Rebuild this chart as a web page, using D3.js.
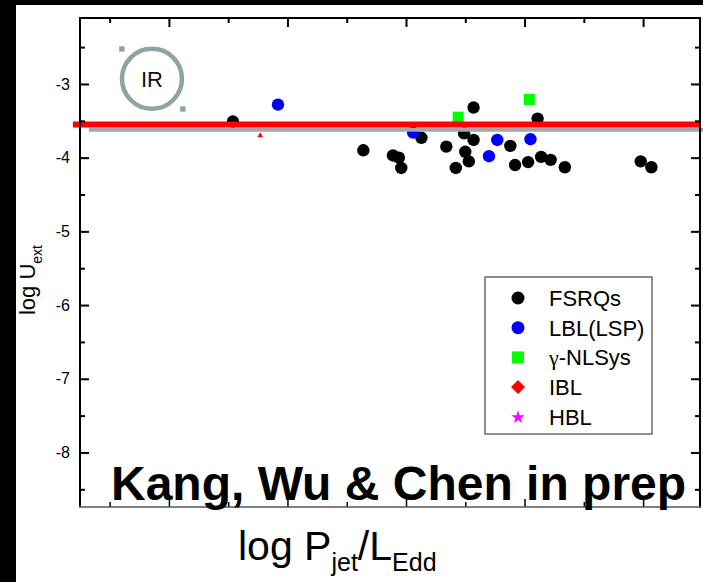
<!DOCTYPE html>
<html>
<head>
<meta charset="utf-8">
<script src="https://cdn.jsdelivr.net/npm/d3@7"></script>
<style>
  body { margin: 0; background: #fff; }
  svg { display: block; font-family: "Liberation Sans", Arial, sans-serif; }
</style>
</head>
<body>
<svg id="chart" width="703" height="582"></svg>
<script>
// ---- data: log Pjet/LEdd (x) vs log U_ext (y) ----
const fsrqX = [-2.46, -1.36, -1.11, -1.06, -1.04, -0.87, -0.66, -0.58, -0.51, -0.43, -0.50,
               -0.47, -0.43, -0.12, -0.08, 0.03, 0.11, 0.14, 0.22, 0.34, 0.98, 1.07];
const fsrqY = [-3.51, -3.90, -3.97, -4.00, -4.14, -3.73, -3.85, -4.14, -3.67, -3.76, -3.92,
               -4.05, -3.32, -3.84, -4.10, -4.06, -3.47, -3.99, -4.03, -4.13, -4.05, -4.13];
const lblX = [-2.08, -0.94, -0.30, -0.23, 0.05];
const lblY = [-3.28, -3.66, -3.98, -3.76, -3.75];
const nlsyX = [-0.56, 0.04];
const nlsyY = [-3.45, -3.21];
const iblX = [-2.23];
const iblY = [-3.70];

// reference levels (horizontal bands)
const redLevel = -3.55;
const grayLevel = -3.62;

// axis ticks
const yTicks = [-8, -7, -6, -5, -4, -3];
const yMinor = [-8.5, -7.5, -6.5, -5.5, -4.5, -3.5, -2.5];
const xTicks = [-3, -2, -1, 0, 1];
const xMinor = [-3.5, -2.5, -1.5, -0.5, 0.5];

const legendLabels = ["FSRQs", "LBL(LSP)", "-NLSys", "IBL", "HBL"];

// ---- layout ----
const W = 703, H = 582;
const plotL = 80, plotR = 700, plotT = 18, plotB = 507;

const svg = d3.select("#chart");

const x = d3.scaleLinear().domain([-3.75, 1.48]).range([plotL, plotR]);
const y = d3.scaleLinear().domain([-2.105, -8.74]).range([plotT, plotB]);

// dark frame strips along the top and left edges
svg.append("rect").attr("x", 0).attr("y", 0).attr("width", W).attr("height", 5).attr("fill", "#000");
svg.append("rect").attr("x", 0).attr("y", 0).attr("width", 16).attr("height", H).attr("fill", "#000");

// ---- points ----
const g = svg.append("g");

const fsrq = fsrqX.map((v, i) => [v, fsrqY[i]]);
const lbl = lblX.map((v, i) => [v, lblY[i]]);
const nlsy = nlsyX.map((v, i) => [v, nlsyY[i]]);
const ibl = iblX.map((v, i) => [v, iblY[i]]);

g.selectAll("circle.fsrq").data(fsrq).join("circle")
  .attr("class", "fsrq")
  .attr("cx", d => x(d[0])).attr("cy", d => y(d[1])).attr("r", 6.2).attr("fill", "#000");

g.selectAll("circle.lbl").data(lbl).join("circle")
  .attr("class", "lbl")
  .attr("cx", d => x(d[0])).attr("cy", d => y(d[1])).attr("r", 6.2).attr("fill", "#0000ff");

g.selectAll("rect.nlsy").data(nlsy).join("rect")
  .attr("class", "nlsy")
  .attr("x", d => x(d[0]) - 5.5).attr("y", d => y(d[1]) - 5.5)
  .attr("width", 11).attr("height", 11).attr("fill", "#00ff00");

g.selectAll("path.ibl").data(ibl).join("path")
  .attr("class", "ibl")
  .attr("transform", d => `translate(${x(d[0])},${y(d[1])})`)
  .attr("d", d3.symbol(d3.symbolTriangle, 14))
  .attr("fill", "#ff0000");

// ---- horizontal levels ----
svg.append("line")
  .attr("x1", x(-3.675)).attr("x2", W)
  .attr("y1", y(grayLevel)).attr("y2", y(grayLevel))
  .attr("stroke", "#a6a6a6").attr("stroke-width", 4);
svg.append("line")
  .attr("x1", x(-3.81)).attr("x2", x(1.475))
  .attr("y1", y(redLevel)).attr("y2", y(redLevel))
  .attr("stroke", "#ff0000").attr("stroke-width", 6);

// ---- axes (inward ticks) ----
function styleAxis(sel, width) {
  sel.select(".domain").remove();
  sel.selectAll(".tick line").attr("stroke", "#000").attr("stroke-width", width);
}

svg.append("g").attr("transform", `translate(${plotL},0)`)
  .call(d3.axisLeft(y).tickValues(yTicks).tickSize(-9).tickPadding(10).tickFormat(d => String(d)))
  .call(s => styleAxis(s, 2))
  .call(s => s.selectAll("text").attr("font-size", 16).attr("fill", "#000")
    .attr("font-family", "'Liberation Sans', Arial, sans-serif"));
svg.append("g").attr("transform", `translate(${plotL},0)`)
  .call(d3.axisLeft(y).tickValues(yMinor).tickSize(-5).tickFormat(""))
  .call(s => styleAxis(s, 2));

svg.append("g").attr("transform", `translate(${plotR},0)`)
  .call(d3.axisRight(y).tickValues(yTicks).tickSize(-9).tickFormat(""))
  .call(s => styleAxis(s, 2));
svg.append("g").attr("transform", `translate(${plotR},0)`)
  .call(d3.axisRight(y).tickValues(yMinor).tickSize(-5).tickFormat(""))
  .call(s => styleAxis(s, 2));

svg.append("g").attr("transform", `translate(0,${plotT})`)
  .call(d3.axisTop(x).tickValues(xTicks).tickSize(-9).tickFormat(""))
  .call(s => styleAxis(s, 2));
svg.append("g").attr("transform", `translate(0,${plotT})`)
  .call(d3.axisTop(x).tickValues(xMinor).tickSize(-5).tickFormat(""))
  .call(s => styleAxis(s, 2));

svg.append("g").attr("transform", `translate(0,${plotB})`)
  .call(d3.axisBottom(x).tickValues(xTicks).tickSize(-8).tickFormat(""))
  .call(s => styleAxis(s, 1.5));
svg.append("g").attr("transform", `translate(0,${plotB})`)
  .call(d3.axisBottom(x).tickValues(xMinor).tickSize(-5).tickFormat(""))
  .call(s => styleAxis(s, 1.5));

// frame
svg.append("line").attr("x1", plotL).attr("x2", plotL).attr("y1", plotT - 1).attr("y2", plotB)
  .attr("stroke", "#000").attr("stroke-width", 2);
svg.append("line").attr("x1", plotR).attr("x2", plotR).attr("y1", plotT - 1).attr("y2", plotB + 1)
  .attr("stroke", "#000").attr("stroke-width", 2);
svg.append("line").attr("x1", plotL - 1).attr("x2", plotR + 1).attr("y1", plotT).attr("y2", plotT)
  .attr("stroke", "#000").attr("stroke-width", 2);
svg.append("line").attr("x1", plotL - 1).attr("x2", plotR + 1).attr("y1", plotB).attr("y2", plotB)
  .attr("stroke", "#555").attr("stroke-width", 1.5);

// ---- IR annotation ----
const irColor = "#8ea3a3";
const irC = [-3.143, -2.93];
svg.append("circle")
  .attr("cx", x(irC[0])).attr("cy", y(irC[1])).attr("r", 30)
  .attr("fill", "none").attr("stroke", irColor).attr("stroke-width", 4.5);
svg.append("text")
  .attr("x", x(irC[0])).attr("y", y(irC[1]) + 8)
  .attr("text-anchor", "middle").attr("font-size", 22).attr("fill", "#111")
  .text("IR");
[[-3.397, -2.525], [-2.882, -3.339]].forEach(p => {
  svg.append("rect")
    .attr("x", x(p[0]) - 2.7).attr("y", y(p[1]) - 2.7)
    .attr("width", 5.4).attr("height", 5.4).attr("fill", irColor);
});

// ---- credit line ----
svg.append("text")
  .attr("x", 111).attr("y", 500)
  .attr("font-size", 48).attr("font-weight", "bold").attr("fill", "#000")
  .text("Kang, Wu & Chen in prep");

// ---- axis titles ----
const xt = svg.append("text").attr("x", 238).attr("y", 560).attr("font-size", 41).attr("fill", "#000");
xt.append("tspan").text("log P");
xt.append("tspan").attr("font-size", 25).attr("dy", 11).text("jet");
xt.append("tspan").attr("dy", -11).text("/L");
xt.append("tspan").attr("font-size", 25).attr("dy", 11).text("Edd");

const yt = svg.append("text")
  .attr("transform", "translate(35,280) rotate(-90)")
  .attr("text-anchor", "middle").attr("font-size", 22).attr("fill", "#000");
yt.append("tspan").text("log U");
yt.append("tspan").attr("font-size", 14).attr("dy", 7).text("ext");

// ---- legend ----
const lg = svg.append("g");
lg.append("rect")
  .attr("x", 485).attr("y", 277).attr("width", 167).attr("height", 157)
  .attr("fill", "#fff").attr("stroke", "#555").attr("stroke-width", 1.3);

const rowY = i => 298 + i * 29.7;
const mx = 518, tx = 549;
lg.append("circle").attr("cx", mx).attr("cy", rowY(0)).attr("r", 6.5).attr("fill", "#000");
lg.append("circle").attr("cx", mx).attr("cy", rowY(1)).attr("r", 6.5).attr("fill", "#0000ff");
lg.append("rect").attr("x", mx - 6).attr("y", rowY(2) - 6).attr("width", 12).attr("height", 12).attr("fill", "#00ff00");
lg.append("path")
  .attr("d", `M${mx},${rowY(3) - 7}L${mx + 7},${rowY(3)}L${mx},${rowY(3) + 7}L${mx - 7},${rowY(3)}Z`)
  .attr("fill", "#ff0000");
lg.append("path")
  .attr("transform", `translate(${mx},${rowY(4) + 0.5})`)
  .attr("d", d3.symbol(d3.symbolStar, 55))
  .attr("fill", "#ff00ff");

legendLabels.forEach((t, i) => {
  const el = lg.append("text").attr("x", tx).attr("y", rowY(i) + 8).attr("font-size", 22).attr("fill", "#000");
  if (i === 2) {
    el.append("tspan").attr("font-family", "'Liberation Serif', 'DejaVu Serif', serif").text("γ");
    el.append("tspan").text(t);
  } else {
    el.text(t);
  }
});
</script>
</body>
</html>
